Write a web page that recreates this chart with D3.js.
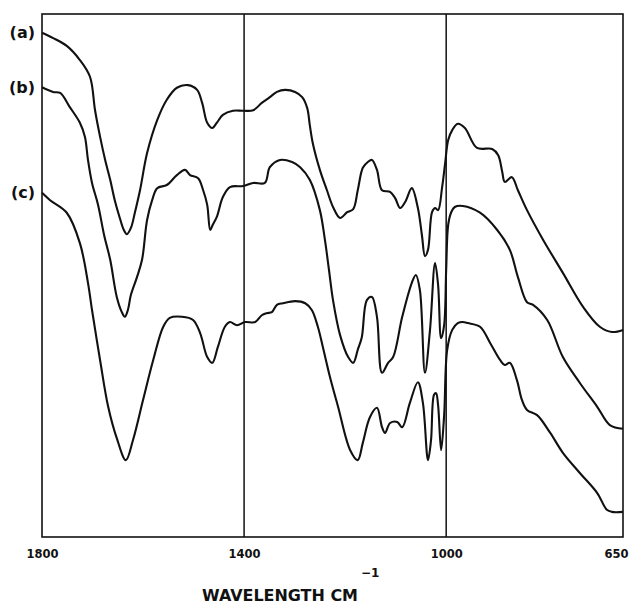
<!DOCTYPE html>
<html lang="en">
<head>
    <meta charset="UTF-8">
    <title>IR Spectra (a) (b) (c)</title>
    <style>
        body {
            margin: 0;
            background: #fff;
        }
        .tick text {
            font-family: "DejaVu Sans", sans-serif;
            font-size: 11.5px;
            font-weight: bold;
            fill: #111;
        }
        .curve-label {
            font-family: "DejaVu Sans", sans-serif;
            font-weight: bold;
            font-size: 16px;
            fill: #111;
        }
        .axis-title {
            font-family: "DejaVu Sans", sans-serif;
            font-size: 16px;
            font-weight: bold;
            fill: #111;
        }
    </style>
</head>
<body>
    <svg id="chart" width="632" height="604"></svg>
    <script src="https://d3js.org/d3.v7.min.js"></script>
    <script>
        // wavenumbers (cm-1) and offset transmittance
        var waveA = [1800, 1778, 1751, 1725, 1705, 1695, 1685, 1675, 1665, 1656, 1646, 1638, 1632, 1624, 1616, 1606, 1592, 1572, 1553, 1533,
                     1511, 1493, 1483, 1473, 1463, 1454, 1442, 1422, 1402, 1382, 1365, 1349, 1335, 1319, 1299, 1285, 1275, 1270, 1264, 1250,
                     1236, 1224, 1210, 1196, 1184, 1175, 1165, 1155, 1147, 1137, 1127, 1111, 1101, 1091, 1081, 1068, 1056, 1048, 1042, 1036,
                     1028, 1022, 1016, 1008, 1002, 996, 988, 977, 963, 939, 909, 897, 889, 884, 870, 858, 840, 808, 769, 729, 696, 672, 650];
        var transA = [96.4, 95.4, 93.9, 91.2, 88.0, 81.6, 76.5, 72.1, 68.3, 64.4, 61.0, 58.7, 57.9, 59.1, 62.1, 66.3, 73.4, 79.7, 83.6, 85.9,
                      86.4, 85.5, 83.0, 79.2, 78.2, 79.2, 80.7, 81.5, 81.5, 81.6, 83.0, 84.1, 85.1, 85.5, 85.1, 84.1, 82.0, 78.8, 75.3, 70.2,
                      66.3, 63.1, 61.0, 62.1, 62.7, 66.3, 70.6, 71.7, 72.1, 70.2, 66.3, 66.0, 64.8, 62.9, 64.1, 66.7, 62.9, 57.7, 53.7, 54.9,
                      62.1, 62.9, 62.5, 66.9, 71.5, 75.9, 77.8, 79.0, 78.2, 74.4, 74.2, 73.0, 69.8, 67.9, 68.8, 66.3, 62.5, 56.8, 50.5, 44.0, 40.2, 39.2, 39.6];

        var waveB = [1800, 1778, 1764, 1745, 1725, 1715, 1709, 1701, 1689, 1677, 1665, 1652, 1642, 1636, 1630, 1624, 1612, 1602, 1592, 1582,
                     1572, 1553, 1533, 1517, 1507, 1491, 1481, 1473, 1467, 1462, 1454, 1442, 1428, 1402, 1382, 1359, 1349, 1329, 1305, 1289,
                     1270, 1250, 1240, 1232, 1224, 1210, 1194, 1184, 1175, 1167, 1157, 1147, 1137, 1127, 1115, 1105, 1087, 1068, 1060, 1052,
                     1042, 1032, 1022, 1016, 1010, 1004, 1000, 996, 990, 983, 967, 933, 899, 874, 858, 840, 828, 800, 769, 735, 701, 676, 650];
        var transB = [86.0, 85.1, 84.9, 82.2, 79.2, 76.5, 72.1, 67.7, 63.5, 57.7, 53.0, 45.9, 43.0, 42.1, 43.4, 46.3, 49.7, 53.0, 60.6, 64.4,
                      66.7, 67.3, 69.2, 70.2, 69.2, 68.6, 66.3, 63.5, 58.7, 59.7, 61.2, 65.0, 66.9, 67.1, 67.7, 67.7, 70.7, 72.1, 71.7, 70.7,
                      68.3, 62.5, 56.8, 51.1, 45.3, 38.6, 34.4, 33.3, 35.8, 38.2, 45.3, 45.9, 42.1, 31.4, 33.3, 34.4, 42.1, 48.6, 50.1, 47.2,
                      31.4, 39.6, 52.4, 48.2, 38.0, 40.5, 51.1, 59.7, 62.1, 63.1, 63.3, 62.0, 58.7, 54.9, 49.7, 44.9, 44.4, 41.5, 34.4, 29.4, 24.9, 21.4, 20.7];

        var waveC = [1800, 1784, 1751, 1725, 1709, 1701, 1685, 1669, 1652, 1634, 1620, 1600, 1580, 1560, 1547, 1523, 1501, 1487, 1473, 1463,
                     1452, 1438, 1428, 1414, 1398, 1378, 1365, 1355, 1345, 1335, 1323, 1299, 1279, 1266, 1254, 1244, 1230, 1214, 1190, 1175,
                     1165, 1151, 1137, 1127, 1121, 1111, 1097, 1087, 1072, 1056, 1046, 1036, 1030, 1024, 1020, 1016, 1010, 1004, 998, 988,
                     977, 967, 957, 933, 913, 893, 884, 874, 860, 850, 840, 820, 794, 769, 735, 701, 682, 672, 650];
        var transC = [65.8, 64.4, 62.0, 56.2, 48.6, 43.4, 33.8, 24.9, 18.9, 14.7, 18.5, 26.2, 33.8, 40.2, 41.9, 42.1, 41.5, 39.0, 34.4, 33.3,
                      36.3, 40.2, 41.1, 40.5, 41.1, 41.1, 42.4, 42.8, 43.0, 44.4, 44.7, 45.1, 44.7, 43.4, 40.2, 36.3, 30.6, 24.9, 16.6, 14.7,
                      18.0, 22.9, 24.7, 21.0, 19.9, 21.8, 22.0, 21.0, 25.6, 29.6, 25.6, 14.7, 18.5, 27.2, 27.5, 25.2, 16.6, 23.3, 35.8, 39.6,
                      40.9, 41.1, 40.9, 40.2, 37.1, 33.8, 32.9, 33.3, 30.0, 26.2, 24.3, 23.3, 19.9, 16.1, 12.2, 8.4, 5.2, 4.8, 4.8];

        var curveNames = ["(a)", "(b)", "(c)"];
        var tickValues = [1800, 1400, 1000, 650];
        var gridValues = [1400, 1000];

        var width = 632;
        var height = 604;
        var margin = { top: 14, right: 9, bottom: 67, left: 42 };

        var svg = d3.select("#chart");

        var x = d3.scaleLinear()
                  .domain([1800, 650])
                  .range([margin.left, width - margin.right]);
        var y = d3.scaleLinear()
                  .domain([0, 100])
                  .range([height - margin.bottom, margin.top]);

        var series = [
            { name: curveNames[0], pts: d3.zip(waveA, transA) },
            { name: curveNames[1], pts: d3.zip(waveB, transB) },
            { name: curveNames[2], pts: d3.zip(waveC, transC) }
        ];

        // frame
        svg.append("rect")
           .attr("x", x(1800))
           .attr("y", y(100))
           .attr("width", x(650) - x(1800))
           .attr("height", y(0) - y(100))
           .attr("fill", "none")
           .attr("stroke", "#111")
           .attr("stroke-width", 1.6);

        // vertical lines at 1400 and 1000
        svg.selectAll(".grid")
           .data(gridValues)
           .enter()
           .append("line")
           .attr("class", "grid")
           .attr("x1", d => x(d))
           .attr("x2", d => x(d))
           .attr("y1", y(100))
           .attr("y2", y(0))
           .attr("stroke", "#111")
           .attr("stroke-width", 1.5);

        var line = d3.line()
                     .x(d => x(d[0]))
                     .y(d => y(d[1]))
                     .curve(d3.curveCatmullRom.alpha(0.5));

        svg.selectAll(".spectrum")
           .data(series)
           .enter()
           .append("path")
           .attr("class", "spectrum")
           .attr("d", d => line(d.pts))
           .attr("fill", "none")
           .attr("stroke", "#111")
           .attr("stroke-width", 2.1)
           .attr("stroke-linejoin", "round");

        // curve labels at the start of each trace
        svg.selectAll(".curve-label")
           .data(series)
           .enter()
           .append("text")
           .attr("class", "curve-label")
           .attr("x", margin.left - 7)
           .attr("y", d => y(d.pts[0][1]))
           .attr("dy", "0.35em")
           .attr("text-anchor", "end")
           .text(d => d.name);

        // x axis labels
        var axis = svg.append("g")
                      .attr("transform", "translate(0," + y(0) + ")")
                      .call(d3.axisBottom(x).tickValues(tickValues).tickSize(0).tickPadding(13).tickFormat(d3.format("d")));
        axis.select(".domain").remove();
        axis.selectAll(".tick text")
            .filter(d => d === 650)
            .attr("text-anchor", "end")
            .attr("dx", 5);

        svg.append("text")
           .attr("class", "axis-title")
           .attr("x", 202)
           .attr("y", 601)
           .attr("textLength", 156)
           .attr("lengthAdjust", "spacingAndGlyphs")
           .text("WAVELENGTH CM");
        svg.append("text")
           .attr("class", "axis-title")
           .attr("x", 361)
           .attr("y", 577)
           .style("font-size", "12px")
           .text("\u22121");
    </script>
</body>
</html>
